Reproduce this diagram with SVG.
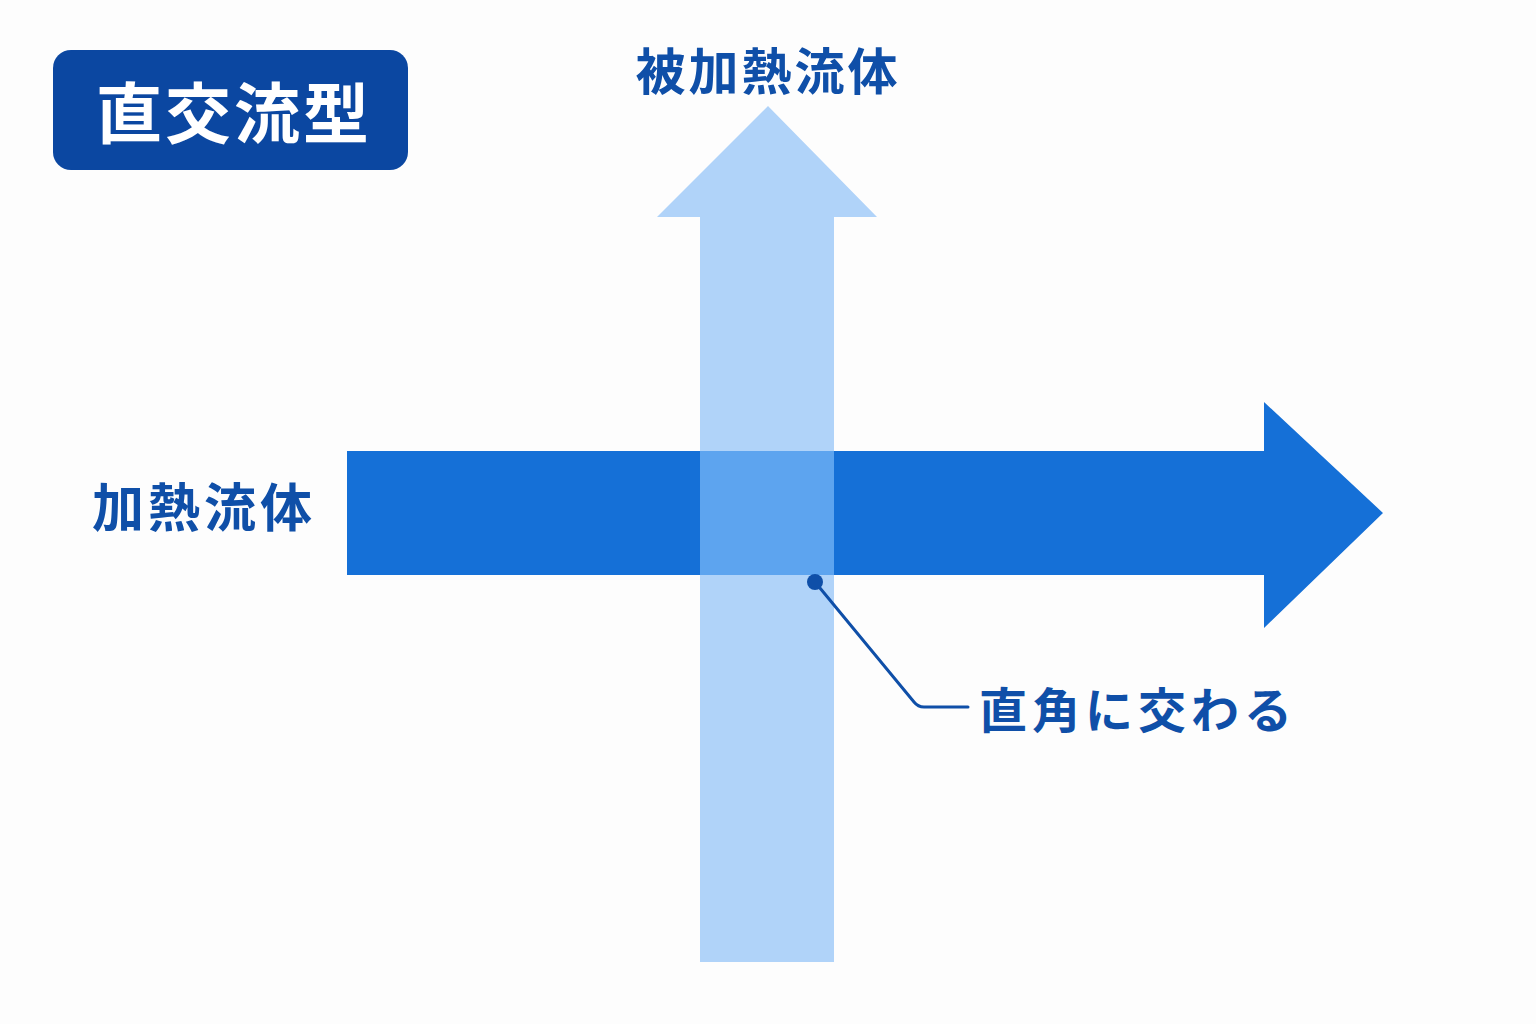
<svg xmlns="http://www.w3.org/2000/svg" width="1536" height="1024" viewBox="0 0 1536 1024">
  <style>
    .lbl { font-family: "Noto Sans CJK JP", "Noto Sans", sans-serif; font-weight: 700; fill: #0f4fa8; }
    .title { font-family: "Noto Sans CJK JP", "Noto Sans", sans-serif; font-weight: 700; fill: #ffffff; }
    .hot { fill: #1570d7; }
    .cold { fill: #b0d3f9; }
    .overlap { fill: #5da4ef; }
    .leader { fill: none; stroke: #0f4fa8; stroke-width: 3; stroke-linejoin: round; stroke-linecap: round; }
  </style>
  <rect x="0" y="0" width="1536" height="1024" fill="#fdfdfd"/>

  <g id="title">
    <rect x="53" y="50" width="355" height="120" rx="18" fill="#0b47a1"/>
    <text class="title" x="234" y="138" font-size="66" text-anchor="middle" letter-spacing="3">直交流型</text>
  </g>

  <g id="heating-fluid">
    <path class="hot" d="M347 451 H1264 V402 L1383 513 L1264 628 V575 H347 Z"/>
    <text class="lbl" x="204" y="527" font-size="52" text-anchor="middle" letter-spacing="4">加熱流体</text>
  </g>

  <g id="heated-fluid">
    <path class="cold" d="M700 962 V217 H657 L768 106 L877 217 H834 V962 Z"/>
    <rect class="overlap" x="700" y="451" width="134" height="124"/>
    <text class="lbl" x="768" y="90" font-size="50" text-anchor="middle" letter-spacing="3">被加熱流体</text>
  </g>

  <g id="connectors">
    <path class="leader" d="M815 582 L914 702 Q918 707 924 707 H968"/>
    <circle cx="815" cy="582" r="8" fill="#0f4fa8"/>
  </g>

  <g id="right-angle-label">
    <text class="lbl" x="979" y="728" font-size="48" letter-spacing="5">直角に交わる</text>
  </g>
</svg>
